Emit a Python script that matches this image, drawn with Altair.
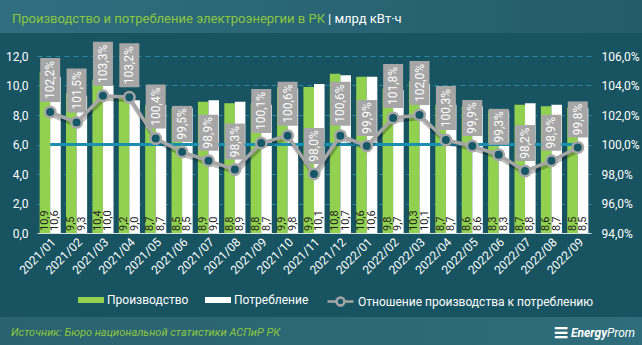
import altair as alt
import pandas as pd

months = ["2021/01", "2021/02", "2021/03", "2021/04", "2021/05", "2021/06", "2021/07",
          "2021/08", "2021/09", "2021/10", "2021/11", "2021/12", "2022/01", "2022/02",
          "2022/03", "2022/04", "2022/05", "2022/06", "2022/07", "2022/08", "2022/09"]
production = [10.9, 9.5, 10.4, 9.2, 8.7, 8.5, 8.9, 8.8, 8.8, 9.9, 9.9, 10.8, 10.6, 9.8,
              10.3, 8.7, 8.6, 8.3, 8.7, 8.6, 8.5]
consumption = [10.6, 9.3, 10.0, 9.0, 8.7, 8.5, 9.0, 8.9, 8.7, 9.8, 10.1, 10.7, 10.6, 9.7,
               10.1, 8.7, 8.6, 8.3, 8.8, 8.7, 8.5]
ratio = [102.2, 101.5, 103.3, 103.2, 100.4, 99.5, 98.9, 98.3, 100.1, 100.6, 98.0, 100.6,
         99.9, 101.8, 102.0, 100.3, 99.9, 99.3, 98.2, 98.9, 99.8]
series_names = ["Производство", "Потребление"]
line_name = "Отношение производства к потреблению"
title_main = "Производство и потребление электроэнергии в РК"
title_unit = "| млрд кВт·ч"
source_text = "Источник: Бюро национальной статистики АСПиР РК"

FONT = "Roboto"
BG = "#175361"
GREEN = "#92d050"
GRAY = "#a6a6a6"
BLUE = "#1b8fb0"

rows = []
for m, p, c in zip(months, production, consumption):
    rows.append({"month": m, "series": series_names[0], "value": p})
    rows.append({"month": m, "series": series_names[1], "value": c})
df_bars = pd.DataFrame(rows)
df_ratio = pd.DataFrame({"month": months, "ratio": ratio, "name": [line_name] * len(months)})

W, H = 554, 177
PL, PT = 37, 56

x_enc = alt.X("month:N", sort=months, title=None,
              scale=alt.Scale(paddingInner=0.2, paddingOuter=0.1),
              axis=alt.Axis(labelAngle=-45, labelAlign="right", labelBaseline="top",
                            labelColor="white", labelFontSize=12, labelFont=FONT,
                            labelPadding=3, ticks=False, domain=True,
                            domainColor="#d5e0e3", domainWidth=1, grid=False))

left_axis = alt.Axis(values=[0, 2, 4, 6, 8, 10, 12], labelColor="white", labelFontSize=12,
                     labelFont=FONT, labelPadding=9, ticks=False, domain=False,
                     grid=True, gridColor="#2a88a2", gridDash=[5, 4], gridWidth=1,
                     labelExpr="replace(format(datum.value, '.1f'), '.', ',')", title=None)
right_axis = alt.Axis(orient="right", values=[94, 96, 98, 100, 102, 104, 106],
                      labelColor="white", labelFontSize=12, labelFont=FONT, labelPadding=10,
                      ticks=False, domain=False, grid=False,
                      labelExpr="replace(format(datum.value, '.1f'), '.', ',') + '%'", title=None)

y_left = alt.Y("value:Q", scale=alt.Scale(domain=[0, 12]), axis=left_axis)

base_bars = alt.Chart(df_bars).encode(
    x=x_enc,
    xOffset=alt.XOffset("series:N", sort=series_names, scale=alt.Scale(paddingInner=0, paddingOuter=0)),
)
bars = base_bars.mark_bar().encode(
    y=y_left,
    color=alt.Color("series:N", sort=series_names,
                    scale=alt.Scale(domain=series_names, range=[GREEN, "#ffffff"]),
                    legend=alt.Legend(orient="none", legendX=41, legendY=231, direction="horizontal",
                                      title=None, symbolType="M-1,-0.23H1V0.23H-1Z", symbolSize=676,
                                      symbolStrokeWidth=0, labelColor="white", labelFontSize=12,
                                      labelFont=FONT, labelOffset=3, columnPadding=16)),
)
bar_text = base_bars.mark_text(angle=270, align="left", baseline="middle", dx=2,
                               fontSize=11, font=FONT, color="#1e1e1e").transform_calculate(
    label="replace(format(datum.value, '.1f'), '.', ',')"
).encode(y=alt.Y(datum=0, scale=alt.Scale(domain=[0, 12]), axis=left_axis), text="label:N")

layer_left = alt.layer(bars, bar_text)

y_right = alt.Y("ratio:Q", scale=alt.Scale(domain=[94, 106]), axis=right_axis)
base_r = alt.Chart(df_ratio).encode(x=alt.X("month:N", sort=months, title=None), y=y_right)

ref_line = base_r.mark_line(color=BLUE, strokeWidth=3).encode(
    y=alt.Y(datum=100, scale=alt.Scale(domain=[94, 106]), axis=right_axis))
shadow = base_r.mark_line(color="black", opacity=0.25, strokeWidth=4, yOffset=3, xOffset=1)
ratio_line = base_r.mark_line(color=GRAY, strokeWidth=3.5)
points = base_r.mark_point(shape="circle", size=110, fill="#175866", fillOpacity=1, opacity=1,
                           strokeWidth=2.5).encode(
    stroke=alt.Stroke("name:N", scale=alt.Scale(domain=[line_name], range=[GRAY]),
                      legend=alt.Legend(orient="none", legendX=289, legendY=231, title=None,
                                        symbolType="M-1,0H-0.3M0.3,0H1M0.3,0A0.3,0.3,0,1,1,-0.3,0A0.3,0.3,0,1,1,0.3,0Z",
                                        symbolSize=676, symbolStrokeWidth=2.5, labelLimit=0,
                                        symbolFillColor="#175866", labelColor="white",
                                        labelFontSize=12, labelFont=FONT, labelOffset=3))
)
fmt = "replace(format(datum.ratio, '.1f'), '.', ',') + '%'"
long_f = "datum.ratio >= 100"
short_f = "datum.ratio < 100"
box_long = base_r.transform_filter(long_f).mark_bar(width=20, color=GRAY, yOffset=-54, y2Offset=-10).encode(
    y2=alt.Y2("ratio:Q"))
box_short = base_r.transform_filter(short_f).mark_bar(width=20, color=GRAY, yOffset=-46, y2Offset=-10).encode(
    y2=alt.Y2("ratio:Q"))
lab_long = base_r.transform_filter(long_f).transform_calculate(rl=fmt).mark_text(
    angle=270, align="center", baseline="middle", dx=32, color="white", fontSize=12, font=FONT
).encode(text="rl:N")
lab_short = base_r.transform_filter(short_f).transform_calculate(rl=fmt).mark_text(
    angle=270, align="center", baseline="middle", dx=28, color="white", fontSize=12, font=FONT
).encode(text="rl:N")

layer_right = alt.layer(ref_line, shadow, ratio_line, points, box_long, box_short, lab_long, lab_short)

one = alt.Data(values=[{"a": 1}])
header = alt.Chart(one).mark_rect(
    fill=alt.LinearGradient(gradient="linear", x1=0, x2=1, y1=0, y2=0,
                            stops=[alt.GradientStop(color="#2f6f7f", offset=0),
                                   alt.GradientStop(color="#235c6a", offset=1)])
).encode(x=alt.value(-PL), x2=alt.value(642 - PL), y=alt.value(-PT), y2=alt.value(33 - PT))
footer = alt.Chart(one).mark_rect(
    fill=alt.LinearGradient(gradient="linear", x1=0, x2=1, y1=0, y2=0,
                            stops=[alt.GradientStop(color="#2a6270", offset=0),
                                   alt.GradientStop(color="#2e6d7b", offset=1)])
).encode(x=alt.value(-PL), x2=alt.value(642 - PL), y=alt.value(317 - PT), y2=alt.value(345 - PT))
t1 = alt.Chart(one).mark_text(align="left", baseline="alphabetic", color="#8cc63f", fontSize=13,
                              font=FONT).encode(x=alt.value(12 - PL), y=alt.value(23 - PT), text=alt.value(title_main))
t2 = alt.Chart(one).mark_text(align="left", baseline="alphabetic", color="white", fontSize=13,
                              font=FONT).encode(x=alt.value(328 - PL), y=alt.value(23 - PT), text=alt.value(title_unit))
src = alt.Chart(one).mark_text(align="left", baseline="alphabetic", color="#8cc63f", fontSize=11,
                               font=FONT, fontStyle="italic").encode(x=alt.value(11 - PL), y=alt.value(336 - PT),
                                                                     text=alt.value(source_text))
logo_icon = alt.Chart(one).mark_text(align="center", baseline="alphabetic", color="white", fontSize=20,
                                     font="DejaVu Sans", fontWeight="bold", fontStyle="italic").encode(
    x=alt.value(561 - PL), y=alt.value(339 - PT), text=alt.value("≡"))
logo1 = alt.Chart(one).mark_text(align="right", baseline="alphabetic", color="white", fontSize=12,
                                 font=FONT, fontWeight="bold", fontStyle="italic").encode(
    x=alt.value(607 - PL), y=alt.value(337 - PT), text=alt.value("Energy"))
logo2 = alt.Chart(one).mark_text(align="left", baseline="alphabetic", color="white", fontSize=12,
                                 font=FONT, fontStyle="italic").encode(
    x=alt.value(607 - PL), y=alt.value(337 - PT), text=alt.value("Prom"))
deco = alt.layer(header, footer, t1, t2, src, logo_icon, logo1, logo2)

chart = alt.layer(deco, layer_left, layer_right).resolve_scale(
    y="independent", color="independent", stroke="independent"
).properties(
    width=W, height=H, background=BG,
    autosize=alt.AutoSizeParams(type="none"),
    padding={"left": PL, "top": PT, "right": 642 - PL - W, "bottom": 345 - PT - H},
).configure_view(stroke=None)

chart.save("out.html", embed_options={"renderer": "svg", "actions": False})
